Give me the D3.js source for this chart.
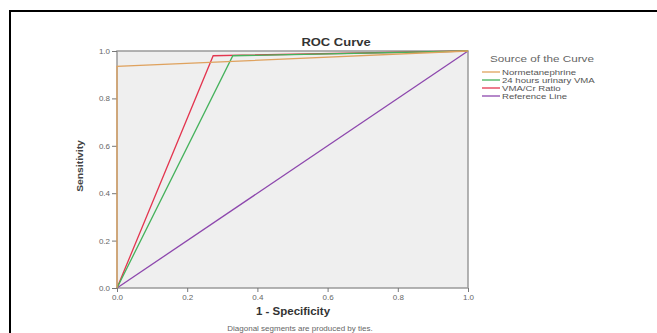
<!DOCTYPE html>
<html>
<head>
<meta charset="utf-8">
<script src="https://cdn.jsdelivr.net/npm/d3@7"></script>
<style>
  body { margin: 0; background: #fff; }
  svg { display: block; font-family: "Liberation Sans", Arial, sans-serif; }
</style>
</head>
<body>
<svg id="chart" width="657" height="333"></svg>
<script>
/** series names, in legend order */
const seriesNames = ["Normetanephrine", "24 hours urinary VMA", "VMA/Cr Ratio", "Reference Line"];
const seriesColors = ["#dfa25e", "#45b25c", "#e3354f", "#8d47ad"];

/** 1 - specificity per series */
const fprNormet = [0, 0, 1];
const fprVma = [0, 0.33, 1];
const fprRatio = [0, 0.274, 1];
const fprRef = [0, 1];

/** sensitivity per series */
const tprNormet = [0, 0.935, 1];
const tprVma = [0, 0.98, 1];
const tprRatio = [0, 0.98, 1];
const tprRef = [0, 1];

const tickValues = [0, 0.2, 0.4, 0.6, 0.8, 1.0];

const series = [
  { x: fprNormet, y: tprNormet },
  { x: fprVma, y: tprVma },
  { x: fprRatio, y: tprRatio },
  { x: fprRef, y: tprRef },
].map((s, i) => ({
  name: seriesNames[i],
  color: seriesColors[i],
  points: s.x.map((v, j) => [v, s.y[j]]),
}));

const svg = d3.select("#chart");

/** text that is a little wider than the font, like the stretched original */
const label = (parent, str, x, y, k, size, opts = {}) =>
  parent.append("text")
    .text(str)
    .attr("transform", `translate(${x},${y}) ${opts.rotate ? "rotate(-90) " : ""}scale(${k},1)`)
    .attr("text-anchor", opts.anchor || "middle")
    .attr("font-weight", opts.bold ? "bold" : null)
    .attr("font-size", size)
    .attr("fill", opts.color || "#555");

/** outer frame (runs off the right and bottom of the picture) */
svg.append("path")
  .attr("d", "M10,340 L10,11 L665,11")
  .attr("fill", "none")
  .attr("stroke", "#000")
  .attr("stroke-width", 2);

/** plot box */
const plotLeft = 117, plotRight = 468, plotTop = 51, plotBottom = 288;

const x = d3.scaleLinear().domain([0, 1]).range([plotLeft, plotRight]);
const y = d3.scaleLinear().domain([0, 1]).range([plotBottom, plotTop]);

svg.append("rect")
  .attr("x", plotLeft).attr("y", plotTop)
  .attr("width", plotRight - plotLeft).attr("height", plotBottom - plotTop)
  .attr("fill", "#efefef")
  .attr("stroke", "#9a9a9a")
  .attr("stroke-width", 1.5);

/** axes */
const fmt = d3.format(".1f");
const xAxis = svg.append("g")
  .attr("transform", `translate(0,${plotBottom})`)
  .call(d3.axisBottom(x).tickValues(tickValues).tickFormat(fmt).tickSize(4).tickPadding(2));
const yAxis = svg.append("g")
  .attr("transform", `translate(${plotLeft},0)`)
  .call(d3.axisLeft(y).tickValues(tickValues).tickFormat(fmt).tickSize(5).tickPadding(2));

for (const g of [xAxis, yAxis]) {
  g.select(".domain").remove();
  g.selectAll("line").attr("stroke", "#777");
  g.selectAll("text")
    .attr("fill", "#666")
    .style("font-size", "8px")
    .style("font-family", "Liberation Sans, Arial, sans-serif");
}

/** curves */
const line = d3.line().x((d) => x(d[0])).y((d) => y(d[1]));
for (const s of series.slice().reverse())
  svg.append("path")
    .attr("d", line(s.points))
    .attr("fill", "none")
    .attr("stroke", s.color)
    .attr("stroke-width", 1.3);

/** titles */
label(svg, "ROC Curve", 336, 46, 1.3, 10, { bold: true, color: "#333" });
label(svg, "1 - Specificity", 293, 315, 1.15, 10, { bold: true, color: "#333" });
label(svg, "Sensitivity", 83, 166, 1.15, 9, { bold: true, color: "#444", rotate: true });
label(svg, "Diagonal segments are produced by ties.", 300, 331, 1, 8, { color: "#666" });

/** legend */
const legend = svg.append("g").attr("transform", "translate(482,59)");
label(legend, "Source of the Curve", 60, 3, 1.3, 9, { color: "#666" });

series.forEach((s, i) => {
  const row = legend.append("g").attr("transform", `translate(0,${13 + i * 8})`);
  row.append("line")
    .attr("x1", 0).attr("x2", 18)
    .attr("stroke", s.color)
    .attr("stroke-width", 1.3);
  label(row, s.name, 20, 2.5, 1.2, 8, { anchor: "start" });
});
</script>
</body>
</html>
